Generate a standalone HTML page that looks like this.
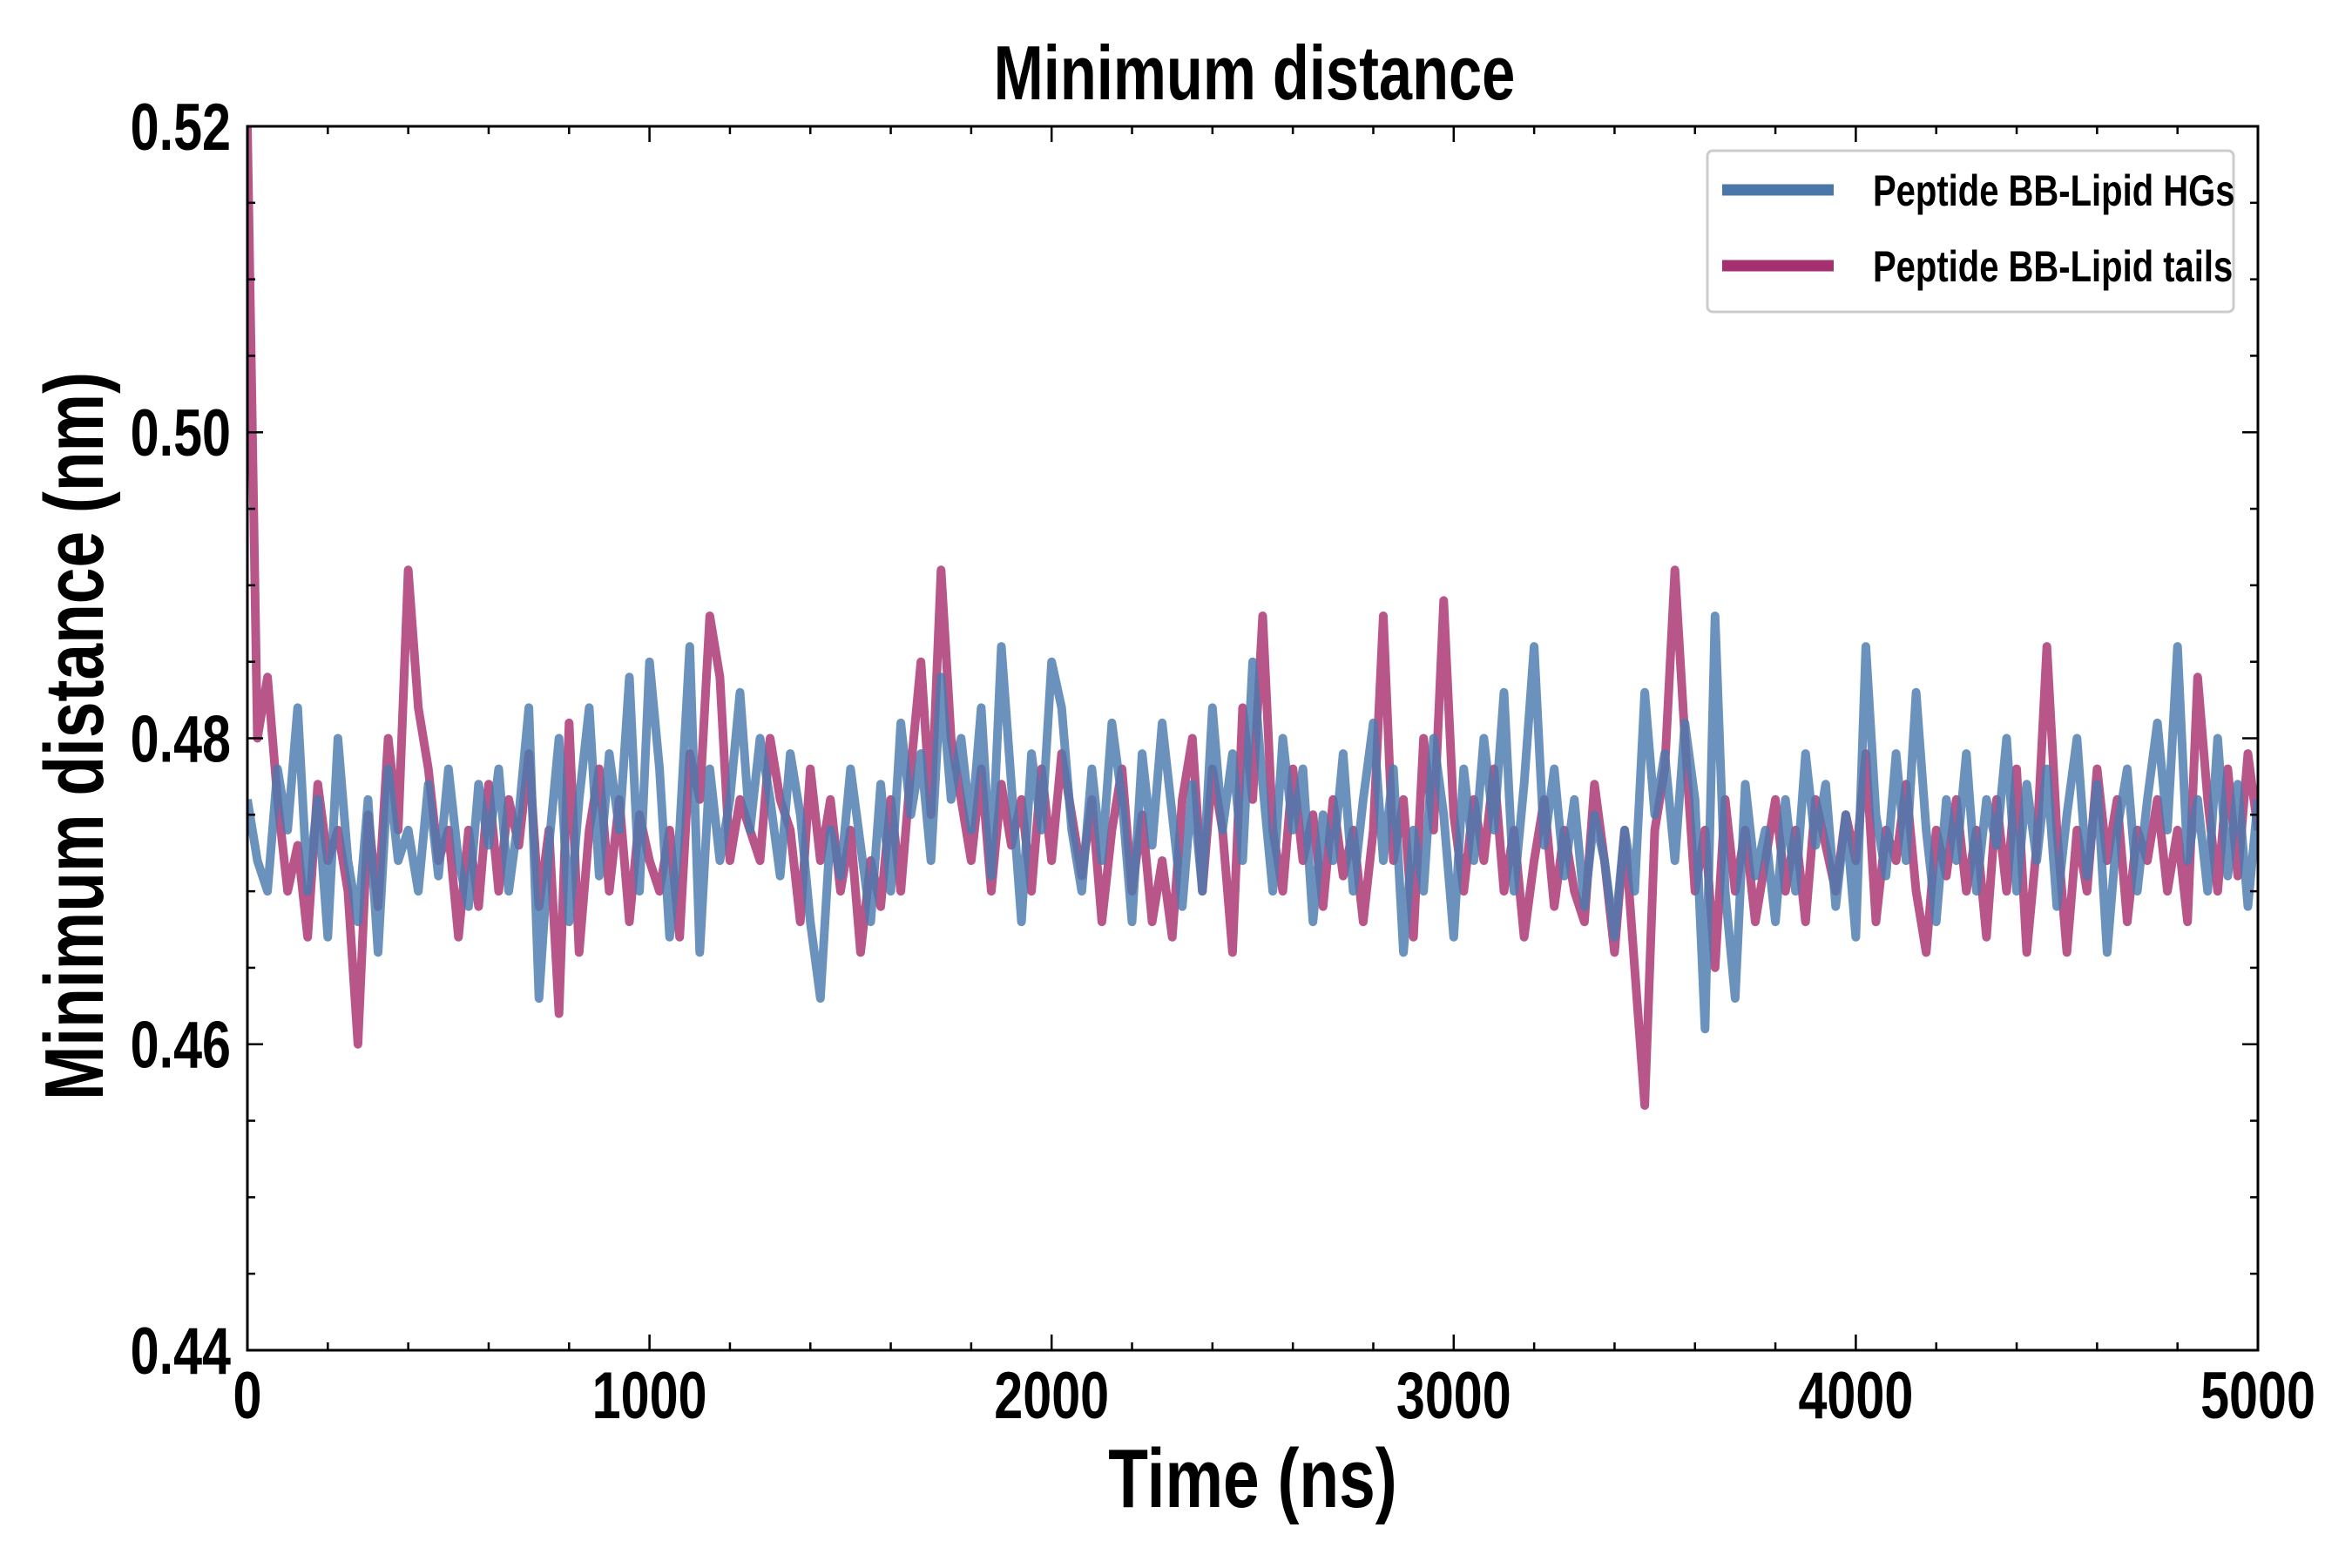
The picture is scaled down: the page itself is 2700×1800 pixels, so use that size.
<!DOCTYPE html>
<html><head><meta charset="utf-8"><style>
html,body{margin:0;padding:0;background:#fff;}
svg{display:block;}
text{font-family:"Liberation Sans Narrow","Liberation Sans",sans-serif;font-weight:bold;fill:#000;}
</style></head><body>
<svg id="chart" width="2700" height="1800" viewBox="0 0 2700 1800" xmlns="http://www.w3.org/2000/svg">
<rect width="2700" height="1800" fill="#fff"/>
<g id="plot"></g>
<g id="axes"></g>
<text x="1440" y="114" text-anchor="middle" font-size="88" transform="translate(1440 0) scale(0.78 1) translate(-1440 0)">Minimum distance</text>
<text x="1438" y="1730" text-anchor="middle" font-size="96" transform="translate(1438 0) scale(0.78 1) translate(-1438 0)">Time (ns)</text>
<text x="0" y="0" text-anchor="middle" font-size="96" transform="translate(118 845) rotate(-90) scale(0.78 1)">Minimum distance (nm)</text>
<g>
<rect x="1960" y="173" width="604" height="185" rx="6" fill="#fff" stroke="#ccc" stroke-width="3"/>
<line x1="1977" y1="218" x2="2105" y2="218" stroke="#4a77a9" stroke-width="13"/>
<text x="2150" y="236" font-size="50" transform="translate(2150 0) scale(0.8 1) translate(-2150 0)">Peptide BB-Lipid HGs</text>
<line x1="1977" y1="305" x2="2105" y2="305" stroke="#a4306f" stroke-width="13"/>
<text x="2150" y="323" font-size="50" transform="translate(2150 0) scale(0.8 1) translate(-2150 0)">Peptide BB-Lipid tails</text>
</g>
</svg>
<script>
const timeStep = 25;
const hgValues = [.476,.472,.470,.478,.474,.482,.470,.476,.467,.480,.472,
.468,.476,.466,.478,.472,.474,.470,.477,.471,.478,
.472,.469,.477,.473,.478,.470,.475,.482,.463,.473,
.480,.468,.476,.482,.471,.479,.474,.484,.470,.485,
.478,.467,.474,.486,.466,.478,.472,.476,.483,.474,
.480,.476,.471,.479,.475,.468,.463,.474,.471,.478,
.473,.468,.477,.470,.481,.475,.479,.472,.484,.476,
.480,.474,.482,.471,.486,.477,.468,.479,.474,.485,
.482,.474,.470,.478,.472,.481,.476,.468,.479,.473,
.481,.475,.469,.477,.470,.482,.474,.479,.472,.485,
.477,.470,.480,.474,.478,.468,.475,.472,.479,.470,
.476,.481,.472,.478,.466,.474,.470,.480,.475,.467,
.478,.472,.480,.474,.483,.470,.477,.486,.473,.478,
.471,.476,.469,.475,.472,.467,.474,.470,.483,.475,
.479,.472,.481,.476,.461,.488,.470,.463,.477,.471,
.474,.468,.476,.470,.479,.473,.477,.469,.475,.467,
.486,.475,.471,.479,.472,.483,.474,.468,.476,.472,
.479,.470,.476,.473,.480,.470,.477,.472,.478,.469,
.475,.480,.471,.477,.466,.474,.478,.470,.476,.481,
.474,.486,.472,.476,.470,.480,.471,.477,.469,.476];
const tailValues = [.520,.480,.484,.476,.470,.473,.467,.477,.472,.474,.470,
.460,.475,.469,.480,.474,.491,.482,.478,.472,.474,
.467,.474,.469,.477,.470,.476,.473,.479,.469,.474,
.462,.481,.466,.474,.478,.470,.476,.468,.475,.472,
.470,.474,.467,.479,.476,.488,.484,.472,.476,.474,
.472,.480,.476,.474,.468,.478,.472,.476,.470,.474,
.466,.472,.469,.476,.470,.478,.485,.475,.491,.480,
.476,.472,.478,.470,.477,.473,.476,.470,.478,.472,
.479,.475,.471,.476,.468,.474,.478,.470,.475,.468,
.472,.467,.476,.480,.470,.478,.474,.466,.482,.476,
.488,.474,.470,.478,.472,.475,.469,.476,.471,.474,
.468,.474,.488,.472,.476,.467,.480,.474,.489,.475,
.470,.476,.472,.478,.470,.474,.467,.472,.476,.469,
.474,.470,.468,.477,.472,.466,.474,.465,.456,.474,
.478,.491,.480,.470,.474,.465,.476,.470,.474,.468,
.472,.476,.470,.474,.468,.476,.473,.470,.475,.472,
.479,.468,.474,.472,.477,.470,.466,.474,.471,.476,
.470,.474,.467,.476,.470,.478,.466,.473,.486,.474,
.466,.474,.470,.478,.472,.476,.468,.474,.472,.476,
.470,.474,.468,.484,.476,.470,.478,.471,.479,.474];
const xTickLabels = ["0","1000","2000","3000","4000","5000"];
const xTickValues = [0,1000,2000,3000,4000,5000];
const yTickLabels = ["0.44","0.46","0.48","0.50","0.52"];
const yTickValues = [0.44,0.46,0.48,0.50,0.52];

const NS="http://www.w3.org/2000/svg";
const L=284,R=2592,T=145,B=1550;
const xMin=0,xMax=5000,yMin=0.44,yMax=0.52;
function xs(v){return L+(v-xMin)/(xMax-xMin)*(R-L);}
function ys(v){return B-(v-yMin)/(yMax-yMin)*(B-T);}
const plot=document.getElementById('plot');
const axes=document.getElementById('axes');
function mk(tag,attrs,parent){const e=document.createElementNS(NS,tag);for(const k in attrs)e.setAttribute(k,attrs[k]);parent.appendChild(e);return e;}

const clip=mk('clipPath',{id:'clipArea'},plot);
mk('rect',{x:L,y:T,width:R-L,height:B-T},clip);
function drawSeries(vals,color,name){
  const d=vals.map((v,i)=>(i?'L':'M')+xs(i*timeStep).toFixed(1)+' '+ys(v).toFixed(1)).join(' ');
  const p=mk('path',{d:d,fill:'none',stroke:color,'stroke-width':10,'stroke-linejoin':'round','stroke-opacity':0.82,'clip-path':'url(#clipArea)'},plot);
  
  
}
drawSeries(tailValues,'#a8306f','series-lipid-tails');
drawSeries(hgValues,'#4a7aad','series-lipid-hgs');

const frame=mk('rect',{x:L,y:T,width:R-L,height:B-T,fill:'none',stroke:'#000','stroke-width':3},axes);



for(let v=0;v<=5000;v+=200){
  const x=xs(v);const major=v%1000===0;const len=major?18:9;
  const t1=mk('line',{x1:x,y1:B,x2:x,y2:B-len,stroke:'#000','stroke-width':2.5},axes);
  
  
  const t2=mk('line',{x1:x,y1:T,x2:x,y2:T+len,stroke:'#000','stroke-width':2.5},axes);
  
  
}
for(let i=0;i<=16;i++){
  const v=yMin+i*0.005;const y=ys(v);const major=i%4===0;const len=major?18:9;
  const t1=mk('line',{x1:L,y1:y,x2:L+len,y2:y,stroke:'#000','stroke-width':2.5},axes);
  
  
  const t2=mk('line',{x1:R,y1:y,x2:R-len,y2:y,stroke:'#000','stroke-width':2.5},axes);
  
  
}
xTickLabels.forEach((lab,i)=>{
  const x=xs(xTickValues[i]);
  const t=mk('text',{x:x,y:1628,'text-anchor':'middle','font-size':76,transform:`translate(${x} 0) scale(0.78 1) translate(${-x} 0)`},axes);
  t.textContent=lab;
  
  
});
yTickLabels.forEach((lab,i)=>{
  const y=ys(yTickValues[i]);
  const t=mk('text',{x:265,y:y+27,'text-anchor':'end','font-size':76,transform:`translate(265 0) scale(0.78 1) translate(-265 0)`},axes);
  t.textContent=lab;
  
  
});
</script>
</body></html>
